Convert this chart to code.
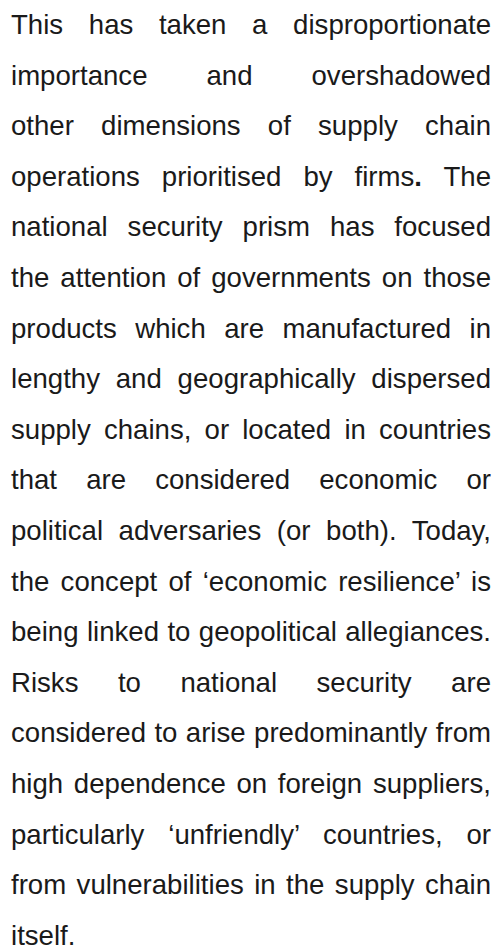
<!DOCTYPE html>
<html>
<head>
<meta charset="utf-8">
<script src="https://cdn.jsdelivr.net/npm/chart.js@4"></script>
<style>
  html, body { margin: 0; padding: 0; background: #ffffff; }
  body { width: 497px; height: 949px; overflow: hidden; }
  #text {
    position: absolute; left: 11px; top: 0px; width: 480px;
    font-family: "Liberation Sans", Arial, Helvetica, sans-serif;
    font-size: 27.6px; line-height: 50.6px; color: #1a1a1a;
  }
  .ln { text-align: justify; text-align-last: justify; }
  .ln.last { text-align-last: left; }
</style>
</head>
<body>
<div id="text"></div>
<script>
const lines = [
  "This has taken a disproportionate",
  "importance and overshadowed",
  "other dimensions of supply chain",
  "operations prioritised by firms**.** The",
  "national security prism has focused",
  "the attention of governments on those",
  "products which are manufactured in",
  "lengthy and geographically dispersed",
  "supply chains, or located in countries",
  "that are considered economic or",
  "political adversaries (or both). Today,",
  "the concept of \u2018economic resilience\u2019 is",
  "being linked to geopolitical allegiances.",
  "Risks to national security are",
  "considered to arise predominantly from",
  "high dependence on foreign suppliers,",
  "particularly \u2018unfriendly\u2019 countries, or",
  "from vulnerabilities in the supply chain",
  "itself."
];
const box = document.getElementById('text');
lines.forEach((s, i) => {
  const d = document.createElement('div');
  d.className = 'ln' + (i === lines.length - 1 ? ' last' : '');
  const parts = s.split('**');
  parts.forEach((p, j) => {
    if (j % 2 === 1) {
      const b = document.createElement('b');
      b.textContent = p;
      d.appendChild(b);
    } else {
      d.appendChild(document.createTextNode(p));
    }
  });
  box.appendChild(d);
});
</script>
</body>
</html>
